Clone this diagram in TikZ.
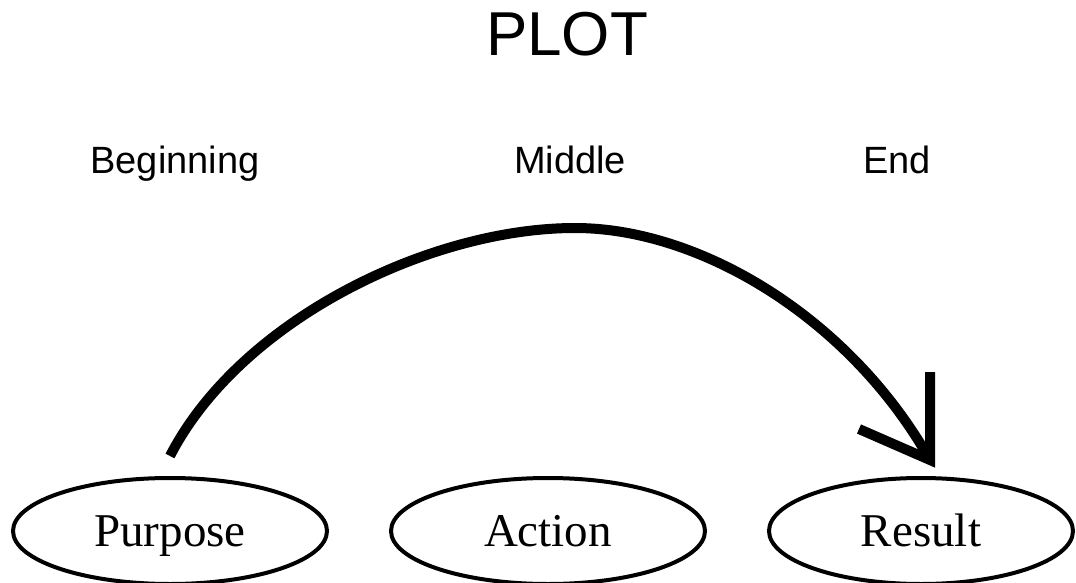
\documentclass[tikz,border=0pt]{standalone}
\usepackage{fontspec}
\setmainfont{Liberation Serif}
\newfontfamily\headfont{Liberation Sans}
\usetikzlibrary{shapes.geometric}

\tikzset{
  stage/.style={ellipse, draw, line width=4pt, minimum width=314pt, minimum height=106pt,
                inner sep=0pt, text height=31pt, text depth=0pt,
                font=\fontsize{47}{47}\selectfont},
  part/.style={font=\headfont\fontsize{38}{38}\selectfont, anchor=base, inner sep=0pt},
  title/.style={font=\headfont\fontsize{62}{62}\selectfont, anchor=base, inner sep=0pt},
  arc/.style={line width=10pt, line cap=butt},
  barb/.style={line width=10pt, line join=miter, miter limit=10, line cap=butt}
}

\begin{document}
\begin{tikzpicture}[x=1pt, y=-1pt]
  \useasboundingbox (0,0) rectangle (1076,583);
  \clip (0,0) rectangle (1076,583);

  % heading and section labels
  \node[title] (plot) at (567,56) {PLOT};
  \node[part] (beg) at (175,173) {Beginning};
  \node[part] (mid) at (570,173) {Middle};
  \node[part] (end) at (897,173) {End};

  % the three stages
  \node[stage] (purpose) at (170,531) {Purpose};
  \node[stage] (action)  at (548,531) {Action};
  \node[stage, minimum width=304pt] (result) at (921,531) {Result};

  % arc from purpose to result
  \coordinate (tip) at (930,460);
  \draw[arc] ([yshift=20pt]purpose.north)
      .. controls (240,320) and (430,228) .. (575,228)
      .. controls (700,228) and (850,318) .. (tip);
  \draw[barb] (930,372) -- (tip) -- (859,429);
\end{tikzpicture}
\end{document}
